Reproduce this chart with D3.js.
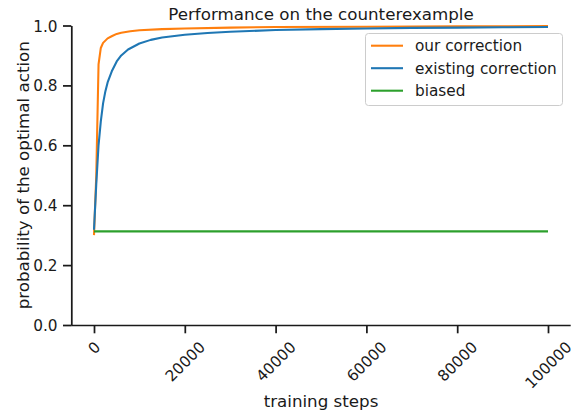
<!DOCTYPE html>
<html><head><meta charset="utf-8">
<script src="https://cdn.jsdelivr.net/npm/d3@7"></script>
<style>
body{margin:0;background:#fff}
svg{display:block}
text{font-family:"DejaVu Sans",sans-serif;fill:#1a1a1a}
</style></head>
<body>
<script>
// ---- data ----
const stepsOurs = [0,500,1000,1500,2000,3000,4000,5000,6000,8000,10000,15000,20000,30000,40000,60000,80000,100000];
const ours      = [0.300,0.50,0.870,0.925,0.942,0.957,0.965,0.972,0.976,0.981,0.984,0.988,0.990,0.993,0.995,0.996,0.997,0.998];
const stepsExisting = [0,500,1000,1500,2000,2500,3000,4000,5000,6000,7500,10000,12500,15000,20000,25000,30000,40000,50000,60000,70000,80000,90000,100000];
const existing      = [0.318,0.47,0.60,0.68,0.74,0.78,0.81,0.85,0.88,0.90,0.92,0.94,0.952,0.96,0.969,0.975,0.979,0.985,0.988,0.990,0.992,0.993,0.994,0.995];
const stepsBiased = [0,100000];
const biased      = [0.3125,0.3125];
const seriesNames = ["our correction","existing correction","biased"];
const colors = ["#ff7f0e","#1f77b4","#2ca02c"];
const xTicks = [0,20000,40000,60000,80000,100000];
const yTicks = [0,0.2,0.4,0.6,0.8,1.0];
const titleText = "Performance on the counterexample";
const xLabel = "training steps";
const yLabel = "probability of the optimal action";

// ---- layout ----
const W = 575, H = 415;
const mLeft = 71.3, mRight = 570.7, mTop = 25.5, mBottom = 325;
const tickFs = 15.3, labelFs = 16.7, legFs = 15.3;
const tickLen = 8.3, axisW = 1.74, lineW = 2.08;
const ink = "#1a1a1a";

const svg = d3.select("body").append("svg").attr("width", W).attr("height", H);
const x = d3.scaleLinear().domain([-5000, 105000]).range([mLeft, mRight]);
const y = d3.scaleLinear().domain([0, 1]).range([mBottom, mTop]);

const series = [
  {name: seriesNames[0], steps: stepsOurs, vals: ours, color: colors[0]},
  {name: seriesNames[1], steps: stepsExisting, vals: existing, color: colors[1]},
  {name: seriesNames[2], steps: stepsBiased, vals: biased, color: colors[2]}
];
const line = d3.line().x(d => x(d[0])).y(d => y(d[1]));
series.forEach(s => {
  svg.append("path")
    .datum(s.steps.map((t, i) => [t, s.vals[i]]))
    .attr("d", line)
    .attr("fill", "none")
    .attr("stroke", s.color)
    .attr("stroke-width", lineW)
    .attr("stroke-linejoin", "round")
    .attr("stroke-linecap", "butt");
});

// axes
const xAxis = svg.append("g").attr("transform", `translate(0,${mBottom})`)
  .call(d3.axisBottom(x).tickValues(xTicks).tickSize(tickLen).tickSizeOuter(0).tickFormat(d3.format("d")));
const yAxis = svg.append("g").attr("transform", `translate(${mLeft},0)`)
  .call(d3.axisLeft(y).tickValues(yTicks).tickSize(tickLen).tickSizeOuter(0).tickFormat(d3.format(".1f")));
[xAxis, yAxis].forEach(g => {
  g.select(".domain").attr("stroke", ink).attr("stroke-width", axisW);
  g.selectAll(".tick line").attr("stroke", ink).attr("stroke-width", axisW);
  g.selectAll("text").attr("font-size", tickFs).attr("font-family", "DejaVu Sans").attr("fill", ink);
});
xAxis.select(".domain").attr("d", `M${mLeft},0.5H${mRight}`);
yAxis.selectAll(".tick text").attr("x", -(tickLen + 5.5)).attr("dy", "0.36em");

// rotated x tick labels (matplotlib-style: bbox centred on tick, top under tick)
xAxis.selectAll(".tick text").each(function() {
  const t = d3.select(this);
  const w = this.getComputedTextLength();
  const h = tickFs * 1.16;
  const half = (w + h) * Math.SQRT1_2 / 2;
  t.attr("y", null).attr("dy", null)
   .attr("text-anchor", "middle")
   .attr("dominant-baseline", "central")
   .attr("transform", `translate(0,${tickLen + 5 + half}) rotate(-45)`);
});

// labels
svg.append("text").attr("x", (mLeft + mRight) / 2).attr("y", 407)
  .attr("text-anchor", "middle").attr("font-size", labelFs).text(xLabel);
svg.append("text").attr("transform", `translate(29,${(mTop + mBottom) / 2}) rotate(-90)`)
  .attr("text-anchor", "middle").attr("font-size", labelFs).text(yLabel);
svg.append("text").attr("x", (mLeft + mRight) / 2).attr("y", 20)
  .attr("text-anchor", "middle").attr("font-size", labelFs).text(titleText);

// legend
const lg = svg.append("g");
const lx = 365.5, ly = 33.5, lw = 197, lh = 72;
lg.append("rect").attr("x", lx).attr("y", ly).attr("width", lw).attr("height", lh)
  .attr("rx", 3).attr("fill", "white").attr("fill-opacity", 0.8)
  .attr("stroke", "#cccccc").attr("stroke-width", 1);
series.forEach((s, i) => {
  const ry = 45.7 + i * 22.5;
  lg.append("line").attr("x1", 371).attr("x2", 403).attr("y1", ry).attr("y2", ry)
    .attr("stroke", s.color).attr("stroke-width", lineW);
  lg.append("text").attr("x", 415).attr("y", ry).attr("dy", "0.36em")
    .attr("font-size", legFs).text(s.name);
});
</script>
</body></html>
